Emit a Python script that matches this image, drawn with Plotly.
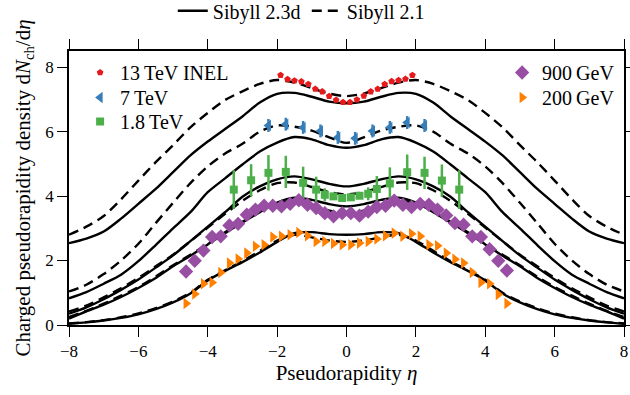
import plotly.graph_objects as go

# ---------------- data ----------------
ETA = [-8.0, -7.5, -7.0, -6.5, -6.0, -5.5, -5.0, -4.5, -4.0, -3.5, -3.0, -2.5, -2.0, -1.5, -1.0, -0.5,
       0.0, 0.5, 1.0, 1.5, 2.0, 2.5, 3.0, 3.5, 4.0, 4.5, 5.0, 5.5, 6.0, 6.5, 7.0, 7.5, 8.0]

# Sibyll 2.1 (dashed) and Sibyll 2.3d (solid) predictions
S21_13TeV = [2.80, 3.05, 3.38, 3.90, 4.48, 5.05, 5.58, 6.13, 6.58, 6.98, 7.25, 7.48, 7.60, 7.52, 7.35, 7.18,
             7.10, 7.18, 7.35, 7.52, 7.60, 7.48, 7.25, 6.98, 6.58, 6.13, 5.58, 5.05, 4.48, 3.90, 3.38, 3.05, 2.80]
S23_13TeV = [2.54, 2.68, 2.90, 3.30, 3.76, 4.22, 4.74, 5.26, 5.69, 6.08, 6.47, 6.90, 7.17, 7.20, 7.08, 6.93,
             6.88, 6.93, 7.08, 7.20, 7.17, 6.90, 6.47, 6.08, 5.69, 5.26, 4.74, 4.22, 3.76, 3.30, 2.90, 2.68, 2.54]
S21_7TeV = [1.04, 1.25, 1.58, 2.00, 2.52, 3.16, 3.79, 4.40, 4.92, 5.32, 5.62, 6.00, 6.19, 6.15, 6.03, 5.82,
            5.65, 5.82, 6.03, 6.15, 6.19, 6.00, 5.62, 5.32, 4.92, 4.40, 3.79, 3.16, 2.52, 2.00, 1.58, 1.25, 1.04]
S23_7TeV = [0.83, 1.02, 1.28, 1.56, 1.98, 2.48, 3.00, 3.50, 4.12, 4.55, 4.98, 5.38, 5.66, 5.83, 5.76, 5.58,
            5.50, 5.58, 5.76, 5.83, 5.66, 5.38, 4.98, 4.55, 4.12, 3.50, 3.00, 2.48, 1.98, 1.56, 1.28, 1.02, 0.83]
S21_18TeV = [0.42, 0.60, 0.86, 1.14, 1.46, 1.82, 2.18, 2.60, 3.02, 3.45, 3.85, 4.18, 4.40, 4.42, 4.28, 4.12,
             4.05, 4.12, 4.28, 4.42, 4.40, 4.18, 3.85, 3.45, 3.02, 2.60, 2.18, 1.82, 1.46, 1.14, 0.86, 0.60, 0.42]
S23_18TeV = [0.35, 0.55, 0.80, 1.09, 1.41, 1.78, 2.16, 2.60, 3.05, 3.50, 3.98, 4.30, 4.52, 4.61, 4.52, 4.38,
             4.30, 4.38, 4.52, 4.61, 4.52, 4.30, 3.98, 3.50, 3.05, 2.60, 2.16, 1.78, 1.41, 1.09, 0.80, 0.55, 0.35]
S21_900GeV = [0.25, 0.44, 0.66, 0.91, 1.18, 1.50, 1.85, 2.18, 2.52, 2.88, 3.20, 3.52, 3.78, 3.85, 3.72, 3.55,
              3.45, 3.55, 3.72, 3.85, 3.78, 3.52, 3.20, 2.88, 2.52, 2.18, 1.85, 1.50, 1.18, 0.91, 0.66, 0.44, 0.25]
S23_900GeV = [0.20, 0.42, 0.63, 0.87, 1.15, 1.46, 1.82, 2.15, 2.50, 2.85, 3.18, 3.50, 3.80, 3.95, 3.88, 3.75,
              3.68, 3.75, 3.88, 3.95, 3.80, 3.50, 3.18, 2.85, 2.50, 2.15, 1.82, 1.46, 1.15, 0.87, 0.63, 0.42, 0.20]
S21_200GeV = [0.05, 0.09, 0.15, 0.24, 0.36, 0.52, 0.73, 1.00, 1.40, 1.70, 1.98, 2.30, 2.62, 2.80, 2.72, 2.62,
              2.58, 2.62, 2.72, 2.80, 2.62, 2.30, 1.98, 1.70, 1.40, 1.00, 0.73, 0.52, 0.36, 0.24, 0.15, 0.09, 0.05]
S23_200GeV = [0.04, 0.08, 0.14, 0.22, 0.33, 0.49, 0.70, 0.98, 1.38, 1.68, 1.95, 2.25, 2.58, 2.85, 2.88, 2.82,
              2.80, 2.82, 2.88, 2.85, 2.58, 2.25, 1.95, 1.68, 1.38, 0.98, 0.70, 0.49, 0.33, 0.22, 0.14, 0.08, 0.04]

# measurements
ETA_13 = [-1.9, -1.7, -1.5, -1.3, -1.1, -0.9, -0.7, -0.5, -0.3, -0.1,
          0.1, 0.3, 0.5, 0.7, 0.9, 1.1, 1.3, 1.5, 1.7, 1.9]
DN_13 = [7.75, 7.62, 7.58, 7.55, 7.47, 7.32, 7.24, 7.10, 6.98, 6.91,
         6.91, 6.99, 7.11, 7.24, 7.32, 7.47, 7.56, 7.59, 7.63, 7.75]

ETA_7 = [-2.25, -1.75, -1.25, -0.75, -0.25, 0.25, 0.75, 1.25, 1.75, 2.25]
DN_7 = [6.19, 6.23, 6.13, 6.02, 5.82, 5.79, 6.02, 6.13, 6.28, 6.19]
ERR_7 = [0.2, 0.2, 0.2, 0.2, 0.2, 0.2, 0.2, 0.2, 0.2, 0.2]

ETA_18 = [-3.25, -2.75, -2.25, -1.75, -1.25, -0.875, -0.625, -0.375, -0.125,
          0.125, 0.375, 0.625, 0.875, 1.25, 1.75, 2.25, 2.75, 3.25]
DN_18 = [4.20, 4.49, 4.72, 4.75, 4.41, 4.20, 4.04, 3.99, 3.94,
         3.96, 4.01, 4.07, 4.22, 4.39, 4.74, 4.72, 4.48, 4.20]
ERR_18 = [0.6, 0.5, 0.55, 0.5, 0.5, 0.4, 0.2, 0.1, 0.08,
          0.08, 0.1, 0.2, 0.4, 0.5, 0.55, 0.5, 0.5, 0.6]

ETA_UA5 = [-4.625, -4.375, -4.125, -3.875, -3.625, -3.375, -3.125, -2.875, -2.625, -2.375,
           -2.125, -1.875, -1.625, -1.375, -1.125, -0.875, -0.625, -0.375, -0.125,
           0.125, 0.375, 0.625, 0.875, 1.125, 1.375, 1.625, 1.875, 2.125, 2.375,
           2.625, 2.875, 3.125, 3.375, 3.625, 3.875, 4.125, 4.375, 4.625]
DN_900 = [1.66, 1.99, 2.31, 2.73, 2.75, 3.09, 3.14, 3.42, 3.58, 3.70,
          3.70, 3.68, 3.76, 3.87, 3.73, 3.63, 3.47, 3.37, 3.47,
          3.47, 3.39, 3.52, 3.66, 3.70, 3.86, 3.73, 3.66, 3.76, 3.73,
          3.58, 3.40, 3.16, 3.11, 2.75, 2.73, 2.35, 1.99, 1.69]
DN_200 = [0.67, 0.96, 1.28, 1.32, 1.63, 1.92, 2.05, 2.23, 2.44, 2.49,
          2.73, 2.75, 2.80, 2.87, 2.77, 2.59, 2.59, 2.53, 2.49,
          2.49, 2.54, 2.59, 2.67, 2.77, 2.85, 2.75, 2.83, 2.75, 2.49,
          2.46, 2.23, 2.04, 1.92, 1.63, 1.32, 1.28, 0.95, 0.67]

X_TICKS = [-8, -6, -4, -2, 0, 2, 4, 6, 8]
Y_TICKS = [0, 2, 4, 6, 8]

# ---------------- figure ----------------
FONT = "Liberation Serif"
RED, BLUE, GREEN, PURPLE, ORANGE = "#e41a1c", "#377eb8", "#4daf4a", "#984ea3", "#ff7f00"
LW = 2.4
DASH = "10px,6px"
PLOT_TOP, PLOT_H = 51, 274


def row_y(px_center):
    """paper y of a legend top so that its single row is centred at px_center"""
    return (PLOT_TOP + PLOT_H - (px_center - 20)) / PLOT_H


fig = go.Figure()

models = [
    (S21_13TeV, "dash"), (S23_13TeV, "solid"),
    (S21_7TeV, "dash"), (S23_7TeV, "solid"),
    (S21_18TeV, "dash"), (S23_18TeV, "solid"),
    (S21_900GeV, "dash"), (S23_900GeV, "solid"),
    (S21_200GeV, "dash"), (S23_200GeV, "solid"),
]
shown = set()
for vals, style in models:
    name = "Sibyll 2.3d" if style == "solid" else "Sibyll 2.1"
    fig.add_trace(go.Scatter(
        x=ETA, y=vals, mode="lines", name=name,
        line=dict(color="black", width=LW, dash="solid" if style == "solid" else DASH,
                  shape="spline", smoothing=0.8),
        legend="legend", showlegend=name not in shown,
        legendrank=1 if style == "solid" else 2,
    ))
    shown.add(name)

fig.add_trace(go.Scatter(x=ETA_13, y=DN_13, mode="markers", name="13\u2009TeV INEL",
                         marker=dict(symbol="pentagon", size=7, color=RED), legend="legend2"))
fig.add_trace(go.Scatter(x=ETA_7, y=DN_7, mode="markers", name="7\u2009TeV",
                         marker=dict(symbol="triangle-left", size=10, color=BLUE),
                         error_y=dict(type="data", array=ERR_7, color=BLUE, thickness=2.5, width=0),
                         legend="legend4"))
fig.add_trace(go.Scatter(x=ETA_18, y=DN_18, mode="markers", name="1.8\u2009TeV",
                         marker=dict(symbol="square", size=8, color=GREEN),
                         error_y=dict(type="data", array=ERR_18, color=GREEN, thickness=2.5, width=0),
                         legend="legend5"))
fig.add_trace(go.Scatter(x=ETA_UA5, y=DN_900, mode="markers", name="900\u2009GeV",
                         marker=dict(symbol="diamond", size=11, color=PURPLE), legend="legend3"))
fig.add_trace(go.Scatter(x=ETA_UA5, y=DN_200, mode="markers", name="200\u2009GeV",
                         marker=dict(symbol="triangle-right", size=10, color=ORANGE), legend="legend6"))

axis_common = dict(
    showline=True, linecolor="black", linewidth=1.6, mirror="ticks",
    ticks="outside", ticklen=10, tickwidth=1.4, tickcolor="black",
    showgrid=False, zeroline=False, automargin=False,
    tickfont=dict(family=FONT, size=17, color="black"),
)

leg_font = dict(family=FONT, size=20)
left_leg = dict(x=0.02, xanchor="left", yanchor="top", bgcolor="rgba(0,0,0,0)",
                font=leg_font, itemwidth=30)
right_leg = dict(x=0.993, xanchor="right", yanchor="top", bgcolor="rgba(0,0,0,0)",
                 font=leg_font, itemwidth=30)

fig.update_layout(
    width=630, height=395,
    margin=dict(l=69, r=6, t=PLOT_TOP, b=70, autoexpand=False),
    paper_bgcolor="white", plot_bgcolor="white",
    font=dict(family=FONT, size=18, color="black"),
    xaxis=dict(range=[-8, 8], tickvals=X_TICKS,
               title=dict(text="Pseudorapidity <i>η</i>", font=dict(family=FONT, size=21), standoff=4),
               **axis_common),
    yaxis=dict(range=[0, 8.5], tickvals=Y_TICKS,
               title=dict(text="Charged pseudorapidity density d<i>N</i><sub>ch</sub>/d<i>η</i>",
                          font=dict(family=FONT, size=21), standoff=9),
               **axis_common),
    legend=dict(orientation="h", x=0.187, xanchor="left", y=1.218, yanchor="top",
                bgcolor="rgba(0,0,0,0)", font=leg_font,
                itemwidth=30, traceorder="normal", entrywidth=89),
    legend2=dict(y=row_y(73), **left_leg),
    legend4=dict(y=row_y(98), **left_leg),
    legend5=dict(y=row_y(122), **left_leg),
    legend3=dict(y=row_y(73), **right_leg),
    legend6=dict(y=row_y(98), **right_leg),
)

fig.write_html("out.html")
